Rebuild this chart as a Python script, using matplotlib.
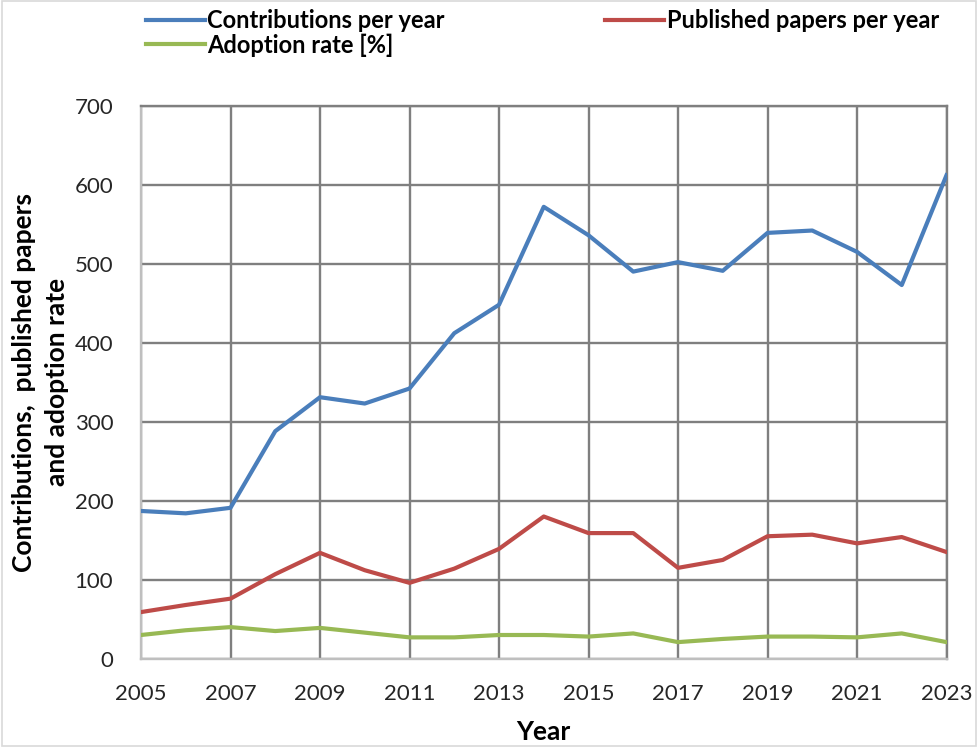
import numpy as np
import matplotlib
matplotlib.use('Agg')
import matplotlib.pyplot as plt
from matplotlib.patches import Rectangle

plt.rcParams['font.family'] = ['Lato', 'DejaVu Sans']

years = list(range(2005, 2024))
contributions = [187, 184, 191, 288, 331, 323, 342, 412, 448, 572,
                 536, 490, 502, 491, 539, 542, 515, 473, 612]
papers = [59, 68, 76, 107, 134, 112, 96, 114, 139, 180,
          159, 159, 115, 125, 155, 157, 146, 154, 135]
adoption = [30, 36, 40, 35, 39, 33, 27, 27, 30, 30,
            28, 32, 21, 25, 28, 28, 27, 32, 21]

labels = ['Contributions per year', 'Published papers per year', 'Adoption rate [%]']
colors = ['#4A7EBB', '#BE4B48', '#98B954']

fig = plt.figure(figsize=(9.78, 7.47), dpi=100)
ax = fig.add_axes([141 / 978, 1 - 658.7 / 747, (946.5 - 141) / 978, (658.7 - 105.7) / 747])

l1, = ax.plot(years, contributions, color=colors[0], lw=3, label=labels[0], zorder=3)
l2, = ax.plot(years, papers, color=colors[1], lw=3, label=labels[1], zorder=3)
l3, = ax.plot(years, adoption, color=colors[2], lw=3, label=labels[2], zorder=3)

ax.set_xlim(2005, 2023)
ax.set_ylim(0, 700)
ax.set_xticks(range(2005, 2024, 2))
ax.set_yticks(range(0, 701, 100))
ax.grid(True, color='#7f7f7f', lw=1.7, zorder=1)
ax.set_axisbelow(True)

for side in ['top', 'right']:
    ax.spines[side].set_color('#7f7f7f')
    ax.spines[side].set_linewidth(1.7)
for side in ['left', 'bottom']:
    ax.spines[side].set_color('#bfbfbf')
    ax.spines[side].set_linewidth(1.7)

ax.tick_params(axis='both', labelsize=16, colors='#bfbfbf', labelcolor='#262626', length=0)
ax.tick_params(axis='y', pad=20)
ax.tick_params(axis='x', pad=18)

ax.set_xlabel('Year', fontsize=19, fontweight='bold', labelpad=12)
ax.set_ylabel('Contributions,  published papers\nand adoption rate', fontsize=19,
              fontweight='bold', labelpad=4, linespacing=1.45)

fig.legend([l1, l3, l2], [labels[0], labels[2], labels[1]], ncol=2, loc='upper left',
           bbox_to_anchor=(146 / 978, 1 - 9 / 747), frameon=False,
           prop={'weight': 'bold', 'size': 17}, handlelength=2.5, handletextpad=0.1,
           columnspacing=6.8, labelspacing=0.05, borderpad=0, borderaxespad=0)

fig.patches.append(Rectangle((0.002, 0.002), 0.996, 0.996, transform=fig.transFigure,
                             fill=False, edgecolor='#d9d9d9', lw=1.2))

fig.savefig('out.png', dpi=100)
